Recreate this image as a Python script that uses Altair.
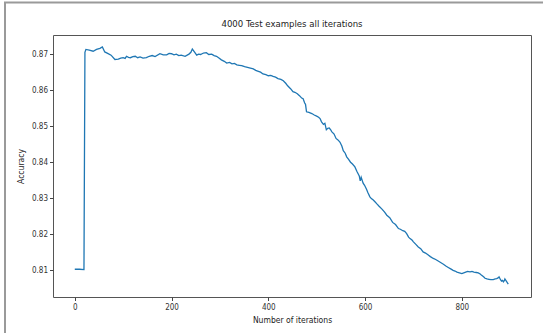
import altair as alt
import pandas as pd

iterations = [0, 10, 19, 21, 23, 30, 38, 45, 52, 57, 62, 68, 75, 83, 90, 95, 100, 104, 107, 111,
              115, 120, 125, 130, 135, 141, 148, 154, 160, 166, 176, 183, 190, 195, 200, 205, 210,
              215, 220, 228, 236, 240, 243, 248, 252, 256, 260, 266, 272, 277, 283, 288, 293, 298,
              303, 309, 314, 320, 325, 330, 335, 340, 345, 351, 357, 363, 369, 374, 378, 384, 389,
              395, 400, 405, 410, 415, 420, 426, 431, 436, 440, 446, 451, 455, 460, 465, 469, 472,
              475, 477, 479, 484, 490, 495, 500, 504, 507, 510, 514, 517, 520, 523, 526, 529, 531,
              536, 540, 544, 548, 552, 555, 559, 562, 566, 570, 574, 579, 583, 588, 590, 592, 596,
              599, 603, 606, 610, 613, 617, 620, 624, 629, 635, 640, 645, 651, 657, 663, 669, 673,
              678, 682, 686, 690, 693, 697, 700, 705, 710, 715, 720, 725, 730, 735, 741, 746, 752,
              757, 762, 767, 772, 777, 782, 786, 790, 795, 800, 804, 808, 812, 817, 821, 825, 830,
              834, 838, 841, 845, 848, 852, 856, 860, 865, 869, 872, 875, 877, 880, 882, 884, 886,
              888, 889, 891, 893, 894, 896]
accuracy = [0.8103, 0.8103, 0.8102, 0.8705, 0.8713, 0.8711, 0.8708, 0.8713, 0.8716, 0.8720,
            0.8706, 0.8702, 0.8697, 0.8685, 0.8686, 0.8689, 0.8690, 0.8688, 0.8694, 0.8691,
            0.8690, 0.8693, 0.8694, 0.8690, 0.8692, 0.8689, 0.8690, 0.8694, 0.8696, 0.8693,
            0.8701, 0.8698, 0.8698, 0.8702, 0.8701, 0.8698, 0.8700, 0.8696, 0.8697, 0.8694,
            0.8700, 0.8705, 0.8714, 0.8705, 0.8697, 0.8700, 0.8699, 0.8703, 0.8704, 0.8699,
            0.8700, 0.8696, 0.8694, 0.8689, 0.8684, 0.8680, 0.8675, 0.8677, 0.8673, 0.8674,
            0.8670, 0.8669, 0.8668, 0.8665, 0.8663, 0.8661, 0.8659, 0.8655, 0.8653, 0.8650,
            0.8645, 0.8643, 0.8640, 0.8641, 0.8638, 0.8636, 0.8632, 0.8630, 0.8626, 0.8619,
            0.8612, 0.8604, 0.8596, 0.8594, 0.8590, 0.8584, 0.8578, 0.8576, 0.8565, 0.8560,
            0.8540, 0.8538, 0.8535, 0.8531, 0.8528, 0.8525, 0.8521, 0.8512, 0.8505, 0.8508,
            0.8490, 0.8494, 0.8495, 0.8490, 0.8485, 0.8478, 0.8466, 0.8462, 0.8456, 0.8445,
            0.8432, 0.8425, 0.8415, 0.8408, 0.8400, 0.8395, 0.8387, 0.8375, 0.8362, 0.8348,
            0.8358, 0.8342, 0.8336, 0.8325, 0.8315, 0.8304, 0.8299, 0.8295, 0.8291, 0.8285,
            0.8278, 0.8270, 0.8262, 0.8253, 0.8246, 0.8233, 0.8227, 0.8216, 0.8214, 0.8210,
            0.8208, 0.8202, 0.8192, 0.8188, 0.8184, 0.8179, 0.8172, 0.8165, 0.8160, 0.8151,
            0.8148, 0.8143, 0.8138, 0.8133, 0.8130, 0.8125, 0.8121, 0.8117, 0.8112, 0.8108,
            0.8104, 0.8100, 0.8098, 0.8095, 0.8093, 0.8091, 0.8093, 0.8095, 0.8097, 0.8096,
            0.8097, 0.8095, 0.8094, 0.8093, 0.8090, 0.8086, 0.8082, 0.8078, 0.8076, 0.8075,
            0.8074, 0.8074, 0.8076, 0.8077, 0.8079, 0.8082, 0.8074, 0.8070, 0.8072, 0.8068,
            0.8072, 0.8076, 0.8072, 0.8068, 0.8066, 0.8062]

x_ticks = [0, 200, 400, 600, 800]
y_ticks = [0.81, 0.82, 0.83, 0.84, 0.85, 0.86, 0.87]
title_text = ["4000 Test examples all iterations"]

df = pd.DataFrame({"iter": iterations, "acc": accuracy})
FONT = "Liberation Sans Narrow, DejaVu Sans Condensed, Liberation Sans, sans-serif"

line = alt.Chart(df).mark_line(color="#1f77b4", strokeWidth=1.3).encode(
    x=alt.X("iter:Q",
            scale=alt.Scale(domain=[-45, 943], nice=False, zero=False),
            axis=alt.Axis(values=x_ticks, title="Number of iterations", grid=False,
                          domain=False, tickColor="#444", tickSize=3.5, labelFontSize=8,
                          labelColor="#333", titleFontSize=8.5, titleFontWeight="normal",
                          titleColor="#222", labelFont=FONT, titleFont=FONT, labelPadding=3,
                          titlePadding=4)),
    y=alt.Y("acc:Q",
            scale=alt.Scale(domain=[0.8026, 0.8753], nice=False, zero=False),
            axis=alt.Axis(values=y_ticks, format=".2f", title="Accuracy", grid=False,
                          domain=False, tickColor="#444", tickSize=3.5, labelFontSize=8,
                          labelColor="#333", titleFontSize=8.5, titleFontWeight="normal",
                          titleColor="#222", labelFont=FONT, titleFont=FONT, labelPadding=2,
                          titlePadding=6)),
)

one = pd.DataFrame({"k": [0]})
frame_left = alt.Chart(one).mark_rule(color="#9a9a9a", strokeWidth=2, clip=False).encode(
    x=alt.value(-48), y=alt.value(-33), y2=alt.value(300)
)
frame_top = alt.Chart(one).mark_rule(color="#9a9a9a", strokeWidth=2, clip=False).encode(
    x=alt.value(-49), x2=alt.value(495), y=alt.value(-32.5)
)
title = alt.Chart(pd.DataFrame({"t": title_text})).mark_text(
    font=FONT, fontSize=9.5, color="#222", baseline="bottom", align="center", clip=False
).encode(text="t:N", x=alt.value(239), y=alt.value(-6))

chart = alt.layer(line, frame_left, frame_top, title).properties(
    width=478, height=262,
    autosize=alt.AutoSizeParams(type="none"),
    padding={"left": 53, "top": 35, "right": 12, "bottom": 36},
).configure_view(stroke="#555", strokeWidth=1)

chart.save("out.html", embed_options={"renderer": "svg", "actions": False})
